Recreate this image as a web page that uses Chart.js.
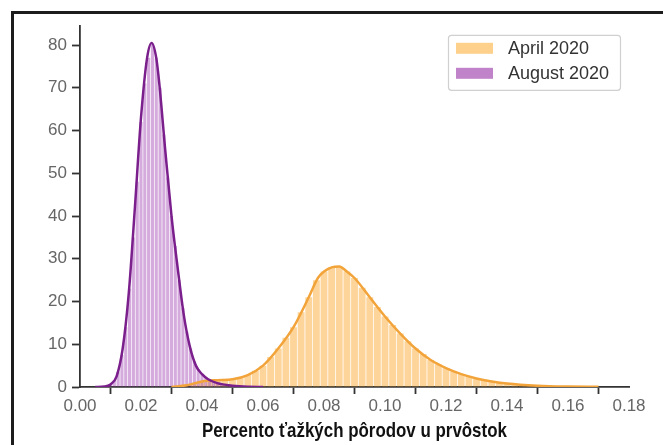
<!DOCTYPE html>
<html>
<head>
<meta charset="utf-8">
<script src="https://cdn.jsdelivr.net/npm/chart.js@4.4.0/dist/chart.umd.min.js"></script>
<style>
  html, body { margin: 0; padding: 0; background: #fff; }
  #wrap { position: relative; width: 663px; height: 445px; overflow: hidden; }
  #frame { position: absolute; left: 11px; top: 11px; width: 700px; height: 500px;
           border-left: 3px solid #1c1c1c; border-top: 3px solid #1c1c1c; }
  canvas { position: absolute; left: 0; top: 0; }
  #xtitle { position: absolute; left: 80px; width: 549px; top: 419px; text-align: center;
            font: bold 21px/21px "Liberation Sans", Arial, sans-serif; color: #111; white-space: nowrap; }
  #xtitle span { display: inline-block; transform-origin: 50% 50%; }
</style>
</head>
<body>
<div id="wrap">
  <div id="frame"></div>
  <canvas id="dist" width="663" height="445"></canvas>
  <div id="xtitle"><span>Percento ťažkých pôrodov u prvôstok</span></div>
</div>
<script>
const seriesLabels = ['April 2020', 'August 2020'];
const xTicks = [0, 0.02, 0.04, 0.06, 0.08, 0.10, 0.12, 0.14, 0.16, 0.18];
const yTicks = [0, 10, 20, 30, 40, 50, 60, 70, 80];

// histogram bins: first bin centre, bin width, densities
const augustStart = 0.0100;
const augustWidth = 0.00125;
const augustHist = [0.5, 1.5, 3.5, 7.5, 14, 23, 35, 48, 62, 71, 77, 80, 77, 70, 59, 49, 40, 33, 25,
  18.5, 13, 9, 6, 4.2, 3, 2.3, 1.7, 1.3, 1.0, 0.7, 0.5, 0.4, 0.3, 0.2, 0.15, 0.1, 0.05];

const aprilStart = 0.0375;
const aprilWidth = 0.0025;
const aprilHist = [0.8, 1.2, 1.5, 1.6, 1.7, 1.8, 2.2, 2.8, 3.8, 5, 7, 9, 11.5, 14, 17.5, 21, 25, 27, 28, 28.2,
  27, 25.5, 23.2, 21, 18.7, 16.5, 14.5, 12.5, 10.7, 9, 7.7, 6.3, 5.3, 4.4, 3.6, 3, 2.5, 2, 1.6, 1.3,
  1.0, 0.8, 0.6, 0.5, 0.4, 0.3, 0.25, 0.2, 0.15, 0.1, 0.08];

// density curves
const augustKdeX = [0.005, 0.008, 0.010, 0.012, 0.014, 0.016, 0.018, 0.020, 0.022, 0.0235, 0.025, 0.026,
  0.028, 0.030, 0.032, 0.034, 0.036, 0.038, 0.040, 0.042, 0.045, 0.050, 0.055, 0.060];
const augustKdeY = [0, 0.1, 0.6, 2.5, 9, 22, 42, 63, 77, 80.5, 77, 71, 55, 40, 28, 17, 9.5, 5, 3, 1.8,
  0.9, 0.3, 0.05, 0];

const aprilKdeX = [0.030, 0.035, 0.040, 0.045, 0.050, 0.055, 0.060, 0.065, 0.070, 0.075, 0.078, 0.080,
  0.0825, 0.085, 0.0875, 0.090, 0.095, 0.100, 0.105, 0.110, 0.115, 0.120, 0.125, 0.130, 0.135, 0.140,
  0.150, 0.160, 0.170];
const aprilKdeY = [0, 0.4, 1.3, 1.6, 1.8, 2.8, 5, 9, 14, 21, 25.5, 27, 28, 28.2, 27, 25.5, 21, 16.5, 12.5,
  9, 6.3, 4.4, 3, 2, 1.3, 0.8, 0.3, 0.1, 0.03];

const toBins = (start, width, vals) => vals.map((v, i) => ({ x: start + i * width, y: v }));
const toPoints = (xs, ys) => xs.map((x, i) => ({ x: x, y: ys[i] }));

const legendColors = ['#fdd08c', '#c083ca'];

// boxed legend in the upper right corner of the plot
const boxLegend = {
  id: 'boxLegend',
  afterDraw(chart) {
    const ctx = chart.ctx;
    const area = chart.chartArea;
    const w = 172, h = 55;
    const left = area.right - 9 - w;
    const top = area.top + 9;
    ctx.save();
    ctx.beginPath();
    ctx.roundRect(left + 0.5, top + 0.5, w, h, 3);
    ctx.fillStyle = 'rgba(255,255,255,0.9)';
    ctx.fill();
    ctx.strokeStyle = '#d0d0d0';
    ctx.lineWidth = 1.2;
    ctx.stroke();
    ctx.font = '18px "Liberation Sans", Arial, sans-serif';
    ctx.textBaseline = 'middle';
    seriesLabels.forEach((label, i) => {
      const y = top + 8 + i * 25;
      ctx.fillStyle = legendColors[i];
      ctx.fillRect(left + 8, y, 37, 11);
      ctx.fillStyle = '#333';
      ctx.fillText(label, left + 60, y + 6);
    });
    ctx.restore();
  }
};

const tickFont = { family: '"Liberation Sans", Arial, sans-serif', size: 17 };

const chart = new Chart(document.getElementById('dist'), {
  type: 'bar',
  data: {
    datasets: [
      {
        type: 'line',
        label: seriesLabels[1],
        data: toPoints(augustKdeX, augustKdeY),
        xAxisID: 'x',
        borderColor: '#7a1f8c',
        borderWidth: 2.5,
        pointRadius: 0,
        cubicInterpolationMode: 'monotone',
        fill: false,
        order: 0
      },
      {
        type: 'line',
        label: seriesLabels[0],
        data: toPoints(aprilKdeX, aprilKdeY),
        xAxisID: 'x',
        borderColor: '#f2a43a',
        borderWidth: 2.5,
        pointRadius: 0,
        cubicInterpolationMode: 'monotone',
        fill: false,
        order: 1
      },
      {
        label: seriesLabels[1],
        data: toBins(augustStart, augustWidth, augustHist),
        xAxisID: 'x',
        backgroundColor: 'rgba(165, 80, 182, 0.48)',
        barPercentage: 0.82,
        categoryPercentage: 1,
        grouped: false,
        order: 2
      },
      {
        label: seriesLabels[0],
        data: toBins(aprilStart, aprilWidth, aprilHist),
        xAxisID: 'x2',
        backgroundColor: 'rgba(252, 172, 56, 0.5)',
        barPercentage: 0.9,
        categoryPercentage: 1,
        grouped: false,
        order: 3
      }
    ]
  },
  options: {
    responsive: false,
    animation: false,
    layout: { padding: { left: 0, right: 34, top: 25.8, bottom: 0 } },
    plugins: { legend: { display: false }, tooltip: { enabled: false } },
    scales: {
      x: {
        type: 'linear',
        min: 0,
        max: 0.18,
        offset: false,
        afterBuildTicks: s => { s.ticks = xTicks.map(v => ({ value: v })); },
        afterFit: s => { s.height = 58; },
        grid: { drawOnChartArea: false, drawTicks: true, tickLength: 7, tickWidth: 1.8, tickColor: '#333' },
        border: { display: true, color: '#333', width: 1.8 },
        ticks: { font: tickFont, color: '#666', padding: 2, maxRotation: 0,
                 callback: v => v.toFixed(2) }
      },
      x2: {
        type: 'linear',
        min: 0,
        max: 0.18,
        offset: false,
        display: false
      },
      y: {
        min: 0,
        max: 84.5,
        afterBuildTicks: s => { s.ticks = yTicks.map(v => ({ value: v })); },
        afterFit: s => { s.width = 80; },
        grid: { drawOnChartArea: false, drawTicks: true, tickLength: 8, tickWidth: 1.8, tickColor: '#333' },
        border: { display: true, color: '#333', width: 1.8 },
        ticks: { font: tickFont, color: '#666', padding: 5 }
      }
    }
  },
  plugins: [boxLegend]
});

// squeeze the axis title into a condensed look
const titleSpan = document.querySelector('#xtitle span');
titleSpan.style.transform = 'scaleX(' + (305 / titleSpan.offsetWidth).toFixed(3) + ')';
</script>
</body>
</html>
